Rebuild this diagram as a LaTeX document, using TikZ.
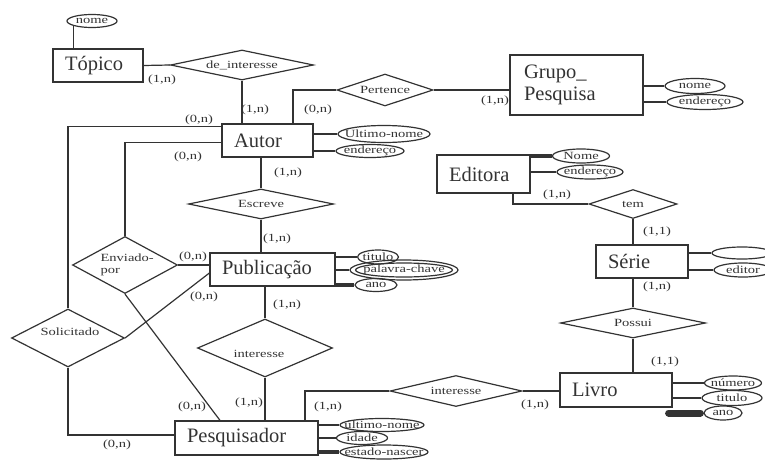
\documentclass[tikz,border=0pt]{standalone}
\usepackage{fontspec}
\setmainfont{Liberation Serif}
\usetikzlibrary{shapes.geometric}
% narrow labels are set wide, as in the drawing
\newcommand\sm[1]{\scalebox{1.32}[1]{#1}}
\begin{document}
\begin{tikzpicture}[x=1pt,y=-1pt,line width=1.2pt,color=black!80,
  ent/.style={draw,rectangle,inner xsep=12pt,inner ysep=0pt,align=left,
    font=\fontsize{20.5}{22}\selectfont},
  rel/.style={draw,diamond,inner sep=0pt},
  attr/.style={draw,ellipse,inner sep=0pt},
  txt/.style={font=\fontsize{11}{12}\selectfont,inner sep=0pt},
  card/.style={font=\fontsize{11}{12}\selectfont,inner sep=0pt},
  thick attr/.style={line width=3.2pt}]
\useasboundingbox (0,0) rectangle (765,460);

% ---------- entities ----------
\node[ent,text width=66pt,minimum height=33pt] (topico) at (98,65.5) {Tópico};
\node[ent,text width=67pt,minimum height=33pt] (autor) at (267.5,140.5) {Autor};
\node[ent,text width=105pt,minimum height=60pt,inner xsep=14pt] (grupo) at (576.5,85) {Grupo\_\\Pesquisa};
\node[ent,text width=69pt,minimum height=38pt] (editora) at (483.5,174) {Editora};
\node[ent,text width=101pt,minimum height=33pt] (publicacao) at (272.5,269.5) {Publicação};
\node[ent,text width=68pt,minimum height=33pt] (serie) at (642,261.5) {Série};
\node[ent,text width=88pt,minimum height=34pt] (livro) at (616,390) {Livro};
\node[ent,text width=119pt,minimum height=34pt] (pesquisador) at (246.5,438) {Pesquisador};

% ---------- relationships ----------
\node[rel,minimum width=143pt,minimum height=30pt] (deint) at (242,65) {};
\node[txt] at (deint) {\sm{de\_interesse}};
\node[rel,minimum width=96pt,minimum height=32pt] (pertence) at (385,90) {};
\node[txt] at (pertence) {\sm{Pertence}};
\node[rel,minimum width=145pt,minimum height=30pt] (escreve) at (261,204) {};
\node[txt] at (escreve) {\sm{Escreve}};
\node[rel,minimum width=105pt,minimum height=57pt] (enviado) at (125,265) {};
\node[txt,align=left,anchor=west] at (100,265) {\sm{Enviado-}\\[0pt]\sm{por}};
\node[rel,minimum width=113pt,minimum height=58pt] (solicitado) at (68,338) {};
\node[txt] at (70,332) {\sm{Solicitado}};
\node[rel,minimum width=135pt,minimum height=58pt] (interesseA) at (265,348) {};
\node[txt] at (259,354) {\sm{interesse}};
\node[rel,minimum width=132pt,minimum height=31pt] (interesseB) at (456,391) {};
\node[txt] at (456,391) {\sm{interesse}};
\node[rel,minimum width=88pt,minimum height=29pt] (tem) at (633,204) {};
\node[txt] at (tem) {\sm{tem}};
\node[rel,minimum width=145pt,minimum height=30pt] (possui) at (633,323) {};
\node[txt] at (possui) {\sm{Possui}};

% ---------- attributes ----------
\node[attr,minimum width=50pt,minimum height=13pt] (tnome) at (92,21) {};
\node[txt] at (tnome) {\sm{nome}};
\node[attr,minimum width=92pt,minimum height=17pt] (aultimo) at (384,134) {};
\node[txt] at (aultimo) {\sm{Ultimo-nome}};
\node[attr,minimum width=68pt,minimum height=13pt] (aend) at (370,151) {};
\node[txt] at (aend) {\sm{endereço}};
\node[attr,minimum width=60pt,minimum height=15pt] (gnome) at (695,86) {};
\node[txt] at (gnome) {\sm{nome}};
\node[attr,minimum width=76pt,minimum height=15pt] (gend) at (705,102) {};
\node[txt] at (gend) {\sm{endereço}};
\node[attr,minimum width=57pt,minimum height=14pt] (enome) at (581,156) {};
\node[txt] at (enome) {\sm{Nome}};
\node[attr,minimum width=66pt,minimum height=14pt] (eend) at (590,172) {};
\node[txt] at (eend) {\sm{endereço}};
\node[attr,minimum width=60pt,minimum height=12pt] (sa) at (742,253) {};
\node[attr,minimum width=58pt,minimum height=14pt] (seditor) at (743,270) {};
\node[txt] at (seditor) {\sm{editor}};
\node[attr,minimum width=41pt,minimum height=14pt] (ptitulo) at (378,257) {};
\node[txt] at (ptitulo) {\sm{titulo}};
\node[attr,minimum width=108pt,minimum height=20pt] (ppalavra) at (404,270) {};
\node[attr,minimum width=97pt,minimum height=14pt] (ppalavraIn) at (404,270) {};
\node[txt] at (ppalavra) {\sm{palavra-chave}};
\node[attr,minimum width=42pt,minimum height=13pt] (pano) at (376,285) {};
\node[txt] at (pano) {\sm{ano}};
\node[attr,minimum width=84pt,minimum height=13pt] (qultimo) at (382,425) {};
\node[txt] at (qultimo) {\sm{último-nome}};
\node[attr,minimum width=51pt,minimum height=13pt] (qidade) at (362,438) {};
\node[txt] at (qidade) {\sm{idade}};
\node[attr,minimum width=88pt,minimum height=14pt] (qestado) at (384,452) {};
\node[txt] at (qestado) {\sm{estado-nascer}};
\node[attr,minimum width=57pt,minimum height=14pt] (lnumero) at (733,383) {};
\node[txt] at (lnumero) {\sm{número}};
\node[attr,minimum width=60pt,minimum height=15pt] (ltitulo) at (732,398) {};
\node[txt] at (ltitulo) {\sm{titulo}};
\node[attr,minimum width=38pt,minimum height=14pt] (lano) at (723,413) {};
\node[txt] at (lano) {\sm{ano}};

% ---------- attribute links ----------
\draw (tnome.south west) -- (tnome.south west |- topico.north);
\draw (autor.east |- aultimo) -- (aultimo.west);
\draw (autor.east |- aend) -- (aend.west);
\draw (grupo.east |- gnome) -- (gnome.west);
\draw (grupo.east |- gend) -- (gend.west);
\draw[thick attr] (editora.east |- enome) -- (enome.west);
\draw (editora.east |- eend) -- (eend.west);
\draw (serie.east |- sa) -- (sa.west);
\draw[line width=2pt] (serie.east |- seditor) -- (seditor.west);
\draw[line width=2pt] (publicacao.east |- ptitulo) -- (ptitulo.west);
\draw (publicacao.east |- ppalavra) -- (ppalavra.west);
\draw[thick attr] (publicacao.east |- pano) -- (pano.west);
\draw[line width=2pt] (pesquisador.east |- qultimo) -- (qultimo.west);
\draw (pesquisador.east |- qidade) -- (qidade.west);
\draw[thick attr] (pesquisador.east |- qestado) -- (qestado.west);
\draw (livro.east |- lnumero) -- (lnumero.west);
\draw (livro.east |- ltitulo) -- (ltitulo.west);
\draw[line width=7pt,line cap=round] ([xshift=-4pt]livro.east |- lano) -- ([xshift=-3pt]lano.west);

% ---------- relationship links ----------
\draw (topico.east) -- (deint.west);
\draw (deint.south) -- (deint.south |- autor.north);
\draw ([xshift=25.5pt]autor.north) |- (pertence.west);
\draw (pertence.east) -- (pertence.east -| grupo.west);
\draw (solicitado.north) |- ([yshift=14pt]autor.west);
\draw (enviado.north) |- ([yshift=-2pt]autor.west);
\draw (escreve.north |- autor.south) -- (escreve.north);
\draw (escreve.south) -- (escreve.south |- publicacao.north);
\draw (enviado.east) -- (enviado.east -| publicacao.west);
\draw (enviado.south) -- ([xshift=-26.5pt]pesquisador.north);
\draw (solicitado.east) -- ([yshift=-3.5pt]publicacao.west);
\draw (solicitado.south) |- ([yshift=3pt]pesquisador.west);
\draw (interesseA.north |- publicacao.south) -- (interesseA.north);
\draw (interesseA.south) -- (interesseA.south |- pesquisador.north);
\draw ([xshift=58.5pt]pesquisador.north) |- (interesseB.west);
\draw (interesseB.east) -- (interesseB.east -| livro.west);
\draw ([xshift=29.5pt]editora.south) |- (tem.west);
\draw (tem.south) -- (tem.south |- serie.north);
\draw (possui.north |- serie.south) -- (possui.north);
\draw (possui.south) -- (possui.south |- livro.north);

% ---------- cardinalities ----------
\node[card] at (162,80) {\sm{(1,n)}};
\node[card] at (255,110) {\sm{(1,n)}};
\node[card] at (318,110) {\sm{(0,n)}};
\node[card] at (495,101) {\sm{(1,n)}};
\node[card] at (199,120) {\sm{(0,n)}};
\node[card] at (188,157) {\sm{(0,n)}};
\node[card] at (288,173) {\sm{(1,n)}};
\node[card] at (277,239) {\sm{(1,n)}};
\node[card] at (193,257) {\sm{(0,n)}};
\node[card] at (204,297) {\sm{(0,n)}};
\node[card] at (287,305) {\sm{(1,n)}};
\node[card] at (249,403) {\sm{(1,n)}};
\node[card] at (192,407) {\sm{(0,n)}};
\node[card] at (117,445) {\sm{(0,n)}};
\node[card] at (328,407) {\sm{(1,n)}};
\node[card] at (535,405) {\sm{(1,n)}};
\node[card] at (557,195) {\sm{(1,n)}};
\node[card] at (657,232) {\sm{(1,1)}};
\node[card] at (657,287) {\sm{(1,n)}};
\node[card] at (665,362) {\sm{(1,1)}};
\end{tikzpicture}
\end{document}
